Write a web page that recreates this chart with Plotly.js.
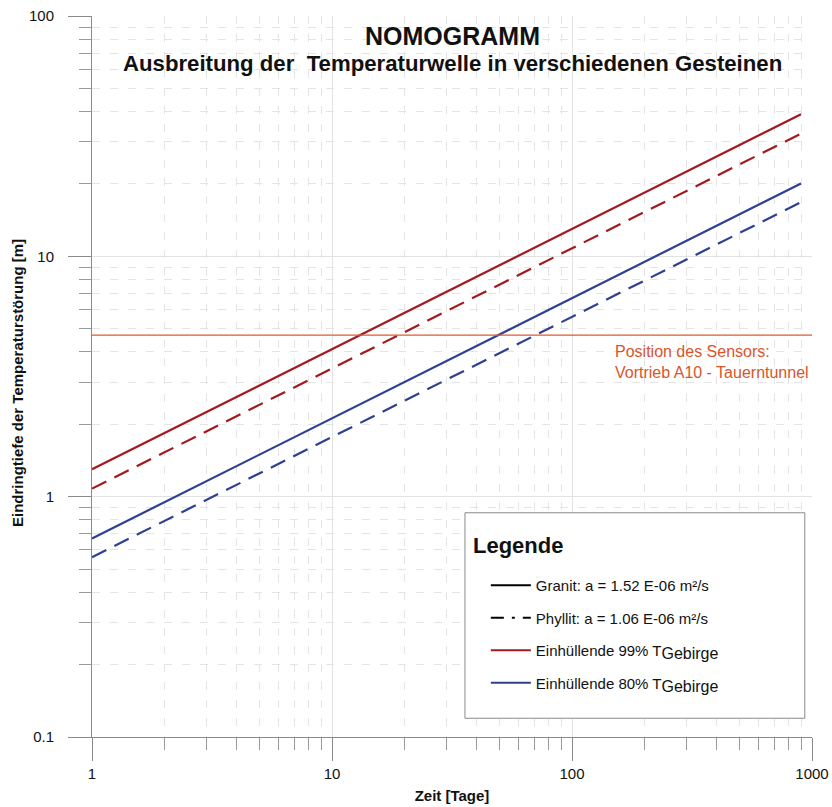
<!DOCTYPE html>
<html><head><meta charset="utf-8">
<script src="https://cdn.plot.ly/plotly-3.0.1.min.js"></script>
<style>html,body{margin:0;padding:0;background:#fff}</style>
</head><body>
<div id="chart" style="width:832px;height:807px"></div>
<script>
// Time [days]
const tage = [1, 10, 100, 900];
// Penetration depth [m]
const granit99 = [1.3, 4.11, 13.0, 39.0];
const phyllit99 = [1.08, 3.42, 10.8, 32.4];
const granit80 = [0.67, 2.12, 6.7, 20.1];
const phyllit80 = [0.56, 1.77, 5.6, 16.8];
// Sensor position
const sensorX = [1, 1000];
const sensorY = [4.7, 4.7];
// Tick labels
const xTicks = [1, 10, 100, 1000];
const xTickText = ['1', '10', '100', '1000'];
const yTicks = [0.1, 1, 10, 100];
const yTickText = ['0.1', '1', '10', '100'];

const RED = '#a31a1e', BLUE = '#2f3f92', ORANGE = '#e2592f';
const DASH = '16px,9px';
const FONT = 'Liberation Sans, Arial, sans-serif';
const SUB = '<sub><span style="font-size:16px">Gebirge</span></sub>';

const traces = [
  {x: tage, y: granit99, mode: 'lines', line: {color: RED, width: 2.2}, showlegend: false},
  {x: tage, y: phyllit99, mode: 'lines', line: {color: RED, width: 2.2, dash: DASH}, showlegend: false},
  {x: tage, y: granit80, mode: 'lines', line: {color: BLUE, width: 2.2}, showlegend: false},
  {x: tage, y: phyllit80, mode: 'lines', line: {color: BLUE, width: 2.2, dash: DASH}, showlegend: false},
  {x: sensorX, y: sensorY, mode: 'lines', line: {color: ORANGE, width: 1.2}, showlegend: false},
  {x: [null], y: [null], mode: 'lines', name: 'Granit: a = 1.52 E-06 m²/s', line: {color: '#000', width: 2}, legendgroup: 'a'},
  {x: [null], y: [null], mode: 'lines', name: 'Phyllit: a = 1.06 E-06 m²/s', line: {color: '#000', width: 2, dash: '13px,8px,3px,8px'}, legendgroup: 'b'},
  {x: [null], y: [null], mode: 'lines', name: 'Einhüllende 99% T' + SUB, line: {color: RED, width: 2}, legendgroup: 'c'},
  {x: [null], y: [null], mode: 'lines', name: 'Einhüllende 80% T' + SUB, line: {color: BLUE, width: 2}, legendgroup: 'd'}
];

const axisCommon = {
  type: 'log',
  showline: true, linecolor: '#8a8a8a', linewidth: 1,
  ticks: 'outside', ticklen: 23, tickcolor: '#8a8a8a', tickwidth: 1,
  showgrid: true, gridcolor: '#e2e2e2', gridwidth: 1,
  zeroline: false,
  tickfont: {family: FONT, size: 15, color: '#111'},
  minor: {ticks: 'outside', ticklen: 12, tickcolor: '#9a9a9a', showgrid: true, gridcolor: '#e4e4e4', griddash: '8px,10px', dtick: 'D1'}
};

const layout = {
  width: 832, height: 807,
  margin: {l: 92, r: 20, t: 16, b: 70},
  paper_bgcolor: '#fff', plot_bgcolor: '#fff',
  font: {family: FONT},
  xaxis: Object.assign({}, axisCommon, {
    range: [0, 3], tickvals: xTicks, ticktext: xTickText,
    title: {text: '<b>Zeit [Tage]</b>', font: {family: FONT, size: 15, color: '#111'}, standoff: 9}
  }),
  yaxis: Object.assign({}, axisCommon, {
    range: [-1, 2], tickvals: yTicks, ticktext: yTickText,
    ticklabelstandoff: 11
  }),
  showlegend: true,
  legend: {
    x: 0.547, y: 0.233, xanchor: 'left', yanchor: 'top',
    bgcolor: 'rgba(0,0,0,0)', borderwidth: 0,
    font: {family: FONT, size: 15, color: '#111'},
    tracegroupgap: 10, itemwidth: 40
  },
  shapes: [
    {type: 'rect', xref: 'paper', yref: 'paper', x0: 0.518, x1: 0.99, y0: 0.026, y1: 0.311,
     line: {color: '#8a8a8a', width: 1}, fillcolor: '#fff', layer: 'above'}
  ],
  annotations: [
    {xref: 'paper', yref: 'paper', x: 0.5, y: 0.972, xanchor: 'center', yanchor: 'middle', showarrow: false,
     text: '<b>NOMOGRAMM</b>', font: {family: FONT, size: 25, color: '#111'}},
    {xref: 'paper', yref: 'paper', x: 0.5, y: 0.934, xanchor: 'center', yanchor: 'middle', showarrow: false,
     text: '<b>Ausbreitung der  Temperaturwelle in verschiedenen Gesteinen</b>', font: {family: FONT, size: 22.2, color: '#111'}},
    {xref: 'paper', yref: 'paper', x: 0.526, y: 0.266, xanchor: 'left', yanchor: 'middle', showarrow: false,
     text: '<b>Legende</b>', font: {family: FONT, size: 22, color: '#111'}},
    {xref: 'paper', yref: 'paper', x: -0.1028, y: 0.491, xanchor: 'center', yanchor: 'middle', showarrow: false, textangle: -90,
     text: '<b>Eindringtiefe der Temperaturstörung [m]</b>', font: {family: FONT, size: 15, color: '#111'}},
    {xref: 'x', yref: 'y', x: Math.log10(148), y: Math.log10(4.45), xanchor: 'left', yanchor: 'top', showarrow: false, align: 'left',
     text: 'Position des Sensors:<br>Vortrieb A10 - Tauerntunnel', font: {family: FONT, size: 16, color: '#d9552b'}}
  ]
};

Plotly.newPlot('chart', traces, layout, {displayModeBar: false, staticPlot: true});
</script>
</body></html>
